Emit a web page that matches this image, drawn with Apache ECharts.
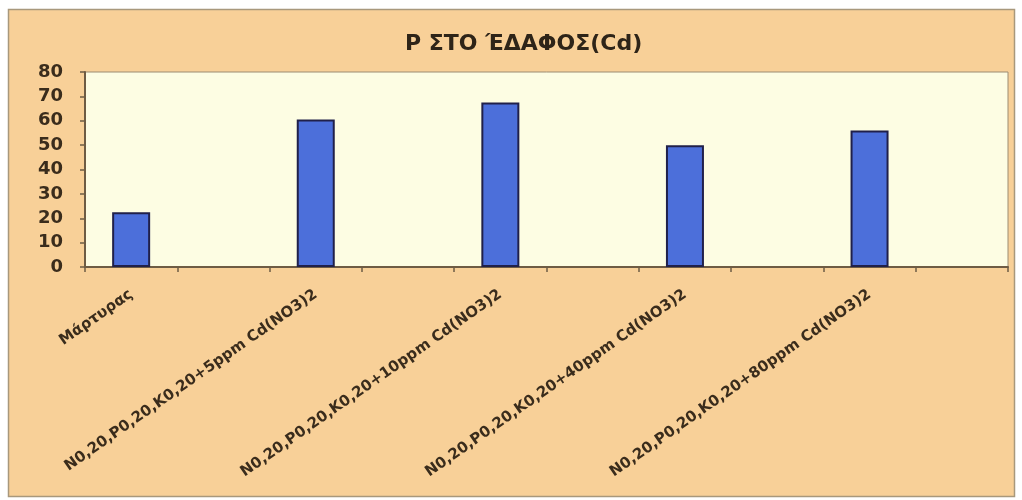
<!DOCTYPE html>
<html>
<head>
<meta charset="utf-8">
<title>Ρ ΣΤΟ ΈΔΑΦΟΣ(Cd)</title>
<script src="https://cdn.jsdelivr.net/npm/echarts@6/dist/echarts.min.js"></script>
<style>
  html, body { margin: 0; padding: 0; background: #ffffff; }
  #chart { width: 1022px; height: 500px; }
</style>
</head>
<body>
<div id="chart"></div>
<script>
// Treatments and measured P in soil (Cd trial)
const treatments = [
  'Μάρτυρας',
  'N0,20,P0,20,K0,20+5ppm Cd(NO3)2',
  'N0,20,P0,20,K0,20+10ppm Cd(NO3)2',
  'N0,20,P0,20,K0,20+40ppm Cd(NO3)2',
  'N0,20,P0,20,K0,20+80ppm Cd(NO3)2'
];
const pValues = [22.5, 60.5, 67.5, 50, 56];
const yTicks = [0, 10, 20, 30, 40, 50, 60, 70, 80];

// Each treatment is followed by an empty slot on the category axis
const axisCats = [];
const axisVals = [];
treatments.forEach((t, i) => {
  axisCats.push(t, '');
  axisVals.push(pValues[i], '-');
});

const FONT = 'DejaVu Sans';
const chart = echarts.init(document.getElementById('chart'));
chart.setOption({
  backgroundColor: '#ffffff',
  animation: false,
  graphic: [{
    type: 'rect',
    z: -10,
    shape: { x: 8.5, y: 9.5, width: 1006, height: 487 },
    style: { fill: '#f8d098', stroke: '#a8987c', lineWidth: 1.5 }
  }],
  title: {
    text: 'Ρ ΣΤΟ ΈΔΑΦΟΣ(Cd)',
    left: 400,
    top: 28,
    textStyle: { fontFamily: FONT, fontSize: 22, fontWeight: 'bold', color: '#2e2418' }
  },
  grid: {
    left: 85, right: 14, top: 72, bottom: 233,
    show: true,
    backgroundColor: '#fdfde3',
    borderColor: '#9c8c72',
    borderWidth: 1
  },
  xAxis: {
    type: 'category',
    data: axisCats,
    axisLine: { lineStyle: { color: '#6e5c44', width: 2 } },
    axisTick: { show: true, length: 5, lineStyle: { color: '#6e5c44', width: 1.5 } },
    axisLabel: {
      interval: 0,
      rotate: 35,
      margin: 26,
      fontFamily: FONT,
      fontSize: 15,
      fontWeight: 'bold',
      color: '#3a2c1c'
    }
  },
  yAxis: {
    type: 'value',
    min: yTicks[0],
    max: yTicks[yTicks.length - 1],
    interval: yTicks[1] - yTicks[0],
    splitLine: { show: false },
    axisLine: { show: true, lineStyle: { color: '#6e5c44', width: 2 } },
    axisTick: { show: true, length: 5, lineStyle: { color: '#6e5c44', width: 1.5 } },
    axisLabel: {
      margin: 22,
      fontFamily: FONT,
      fontSize: 18,
      fontWeight: 'bold',
      color: '#3a2c1c'
    }
  },
  series: [{
    type: 'bar',
    data: axisVals,
    barWidth: 38,
    itemStyle: { color: '#4c6fda', borderColor: '#20204a', borderWidth: 2 }
  }]
});
</script>
</body>
</html>
